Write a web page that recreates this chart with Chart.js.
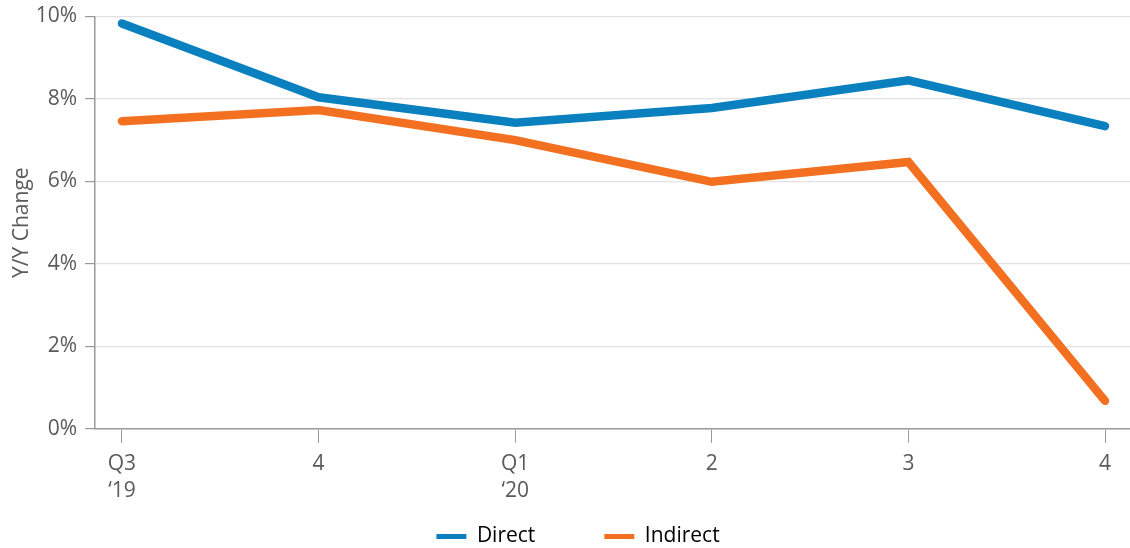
<!DOCTYPE html>
<html>
<head>
<meta charset="utf-8">
<script src="https://cdn.jsdelivr.net/npm/chart.js@4/dist/chart.umd.min.js"></script>
<style>
  html, body { margin: 0; padding: 0; background: #ffffff; }
  #wrap { width: 1130px; height: 548px; position: relative; }
</style>
</head>
<body>
<div id="wrap"><canvas id="yoyChart"></canvas></div>
<script>
const quarterLabels = [["Q3", "\u201819"], "4", ["Q1", "\u201820"], "2", "3", "4"];
const directValues = [9.83, 8.04, 7.42, 7.78, 8.45, 7.34];
const indirectValues = [7.46, 7.73, 7.0, 5.99, 6.47, 0.68];
const yTicks = [0, 2, 4, 6, 8, 10];

const textColor = "#5a5a5a";
const fontFamily = "'Open Sans', 'Noto Sans', sans-serif";

function toPoints(values) {
  return values.map((v, i) => ({ x: i, y: v }));
}

const ctx = document.getElementById("yoyChart").getContext("2d");

new Chart(ctx, {
  type: "line",
  data: {
    datasets: [
      {
        label: "Direct",
        data: toPoints(directValues),
        borderColor: "#0a80bf",
        backgroundColor: "#0a80bf",
        borderWidth: 8.5,
        borderCapStyle: "round",
        pointRadius: 0,
        tension: 0
      },
      {
        label: "Indirect",
        data: toPoints(indirectValues),
        borderColor: "#f37021",
        backgroundColor: "#f37021",
        borderWidth: 8.5,
        borderCapStyle: "round",
        pointRadius: 0,
        tension: 0
      }
    ]
  },
  options: {
    responsive: true,
    maintainAspectRatio: false,
    animation: false,
    layout: { padding: { top: 0, right: 0, left: 26, bottom: -9 } },
    plugins: {
      legend: {
        position: "bottom",
        labels: {
          color: textColor,
          font: { family: fontFamily, size: 21 },
          boxWidth: 30,
          boxHeight: 5,
          padding: 3.5,
          generateLabels: (chart) =>
            chart.data.datasets.map((ds, i) => ({
              text: i === 0 ? ds.label + "            " : ds.label,
              fillStyle: ds.borderColor,
              strokeStyle: ds.borderColor,
              lineWidth: 0,
              datasetIndex: i
            }))
        }
      },
      tooltip: { enabled: false }
    },
    scales: {
      x: {
        type: "linear",
        min: -0.137,
        max: 5.127,
        afterBuildTicks: (scale) => {
          scale.ticks = quarterLabels.map((_, i) => ({ value: i }));
        },
        afterFit: (scale) => {
          scale.height += 11;
        },
        ticks: {
          color: textColor,
          font: { family: fontFamily, size: 21, lineHeight: 1.3 },
          padding: 7,
          autoSkip: false,
          maxRotation: 0,
          callback: (value) => quarterLabels[value]
        },
        grid: {
          drawOnChartArea: false,
          drawTicks: true,
          tickLength: 14,
          tickColor: "#9a9a9a",
          tickWidth: 1
        },
        border: { color: "#9a9a9a", width: 1.5 }
      },
      y: {
        min: 0,
        max: 10,
        afterBuildTicks: (scale) => {
          scale.ticks = yTicks.map((v) => ({ value: v }));
        },
        afterFit: (scale) => {
          scale.width = 69;
        },
        ticks: {
          color: textColor,
          font: { family: fontFamily, size: 21, lineHeight: 0.8 },
          padding: 8,
          callback: (value) => value + "%"
        },
        grid: {
          color: "#e2e2e2",
          lineWidth: 1.2,
          tickLength: 10,
          tickColor: "#9a9a9a"
        },
        border: { color: "#9a9a9a", width: 1.5 },
        title: {
          display: true,
          text: "Y/Y Change",
          color: textColor,
          font: { family: fontFamily, size: 21 },
          padding: { top: -17, bottom: 4 }
        }
      }
    }
  }
});
</script>
</body>
</html>
